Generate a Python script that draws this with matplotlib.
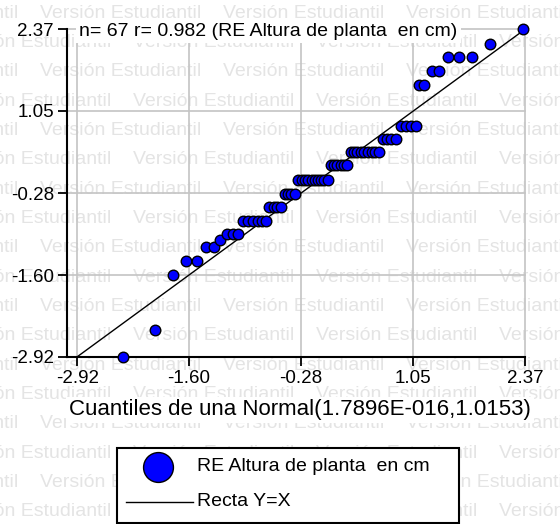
import matplotlib
matplotlib.use('Agg')
import matplotlib.pyplot as plt
from matplotlib.patches import Rectangle
from matplotlib.lines import Line2D

plt.rcParams['font.family'] = ['Liberation Sans', 'DejaVu Sans']

# normal quantiles (x) and residuals (y)
x_quant = [-2.38, -2.00, -1.79, -1.63, -1.51, -1.40, -1.31, -1.23, -1.15, -1.08,
           -1.02, -0.96, -0.90, -0.85, -0.79, -0.74, -0.69, -0.65, -0.60, -0.56,
           -0.51, -0.47, -0.43, -0.39, -0.35, -0.31, -0.27, -0.23, -0.19, -0.15,
           -0.11, -0.08, -0.04, 0.00, 0.04, 0.08, 0.11, 0.15, 0.19, 0.23,
           0.27, 0.31, 0.35, 0.39, 0.43, 0.47, 0.51, 0.56, 0.60, 0.65,
           0.69, 0.74, 0.79, 0.85, 0.90, 0.96, 1.02, 1.08, 1.12, 1.18,
           1.27, 1.35, 1.46, 1.59, 1.74, 1.96, 2.35]
y_resid = [-2.92, -2.49, -1.60, -1.37, -1.37, -1.15, -1.15, -1.04, -0.93, -0.93,
           -0.93, -0.72, -0.72, -0.72, -0.72, -0.72, -0.72, -0.50, -0.50, -0.50,
           -0.50, -0.29, -0.29, -0.29, -0.29, -0.06, -0.06, -0.06, -0.06, -0.06,
           -0.06, -0.06, -0.06, -0.06, -0.06, 0.17, 0.17, 0.17, 0.17, 0.17,
           0.17, 0.38, 0.38, 0.38, 0.38, 0.38, 0.38, 0.38, 0.38, 0.38,
           0.60, 0.60, 0.60, 0.60, 0.81, 0.81, 0.81, 0.81, 1.47, 1.47,
           1.70, 1.70, 1.92, 1.92, 1.92, 2.14, 2.37]
ref_line = [-2.92, 2.37]
ticks = [-2.92, -1.60, -0.28, 1.05, 2.37]

title = "n= 67 r= 0.982 (RE Altura de planta  en cm)"
xlabel = "Cuantiles de una Normal(1.7896E-016,1.0153)"
series_label = "RE Altura de planta  en cm"
line_label = "Recta Y=X"

W, H = 560, 524


def fx(px):
    return px / W


def fy(py):
    return 1 - py / H


fig = plt.figure(figsize=(5.6, 5.24), dpi=100)

# student-version watermark behind everything
for row in range(18):
    yy = 13 + 29.35 * row
    start = 40 if row % 2 == 0 else 133
    for j in range(-1, 4):
        fig.text(fx(start + 183 * j), fy(yy), "Versión Estudiantil", fontsize=14,
                 color='#e4e4e4', va='center', ha='left', zorder=-5)

ax = fig.add_axes([fx(67), fy(356.7), fx(525) - fx(67), (356.7 - 29.3) / H])
ax.set_facecolor('none')
ax.set_xlim(-3.042, 2.37)
ax.set_ylim(-2.92, 2.37)

ax.grid(True, color='#c4c4c4', lw=1.2)
ax.set_axisbelow(True)
for gl in ax.get_xgridlines() + ax.get_ygridlines():
    gl.set_clip_on(False)
ax.plot(ref_line, ref_line, color='black', lw=1.0, zorder=2)
ax.plot(x_quant, y_resid, 'o', ms=7.6, mfc='#0000ff', mec='black', mew=1.0,
        zorder=3, clip_on=False)

for s in ['top', 'right']:
    ax.spines[s].set_visible(False)
for s in ['left', 'bottom']:
    ax.spines[s].set_linewidth(1.5)

ax.set_xticks(ticks)
ax.set_yticks(ticks)
ax.set_xticklabels([f"{t:.2f}" for t in ticks])
ax.set_yticklabels([f"{t:.2f}" for t in ticks])
ax.tick_params(direction='out', length=6.5, width=1.3, labelsize=13.5, pad=3)

ax.set_xlabel(xlabel, fontsize=16, va='center',
              bbox=dict(facecolor='white', edgecolor='none', pad=2))
ax.xaxis.set_label_coords((300 - 67) / 458, (356.7 - 410) / 327.4)

fig.text(fx(79), fy(31), title, fontsize=14, va='center', ha='left', zorder=3,
         bbox=dict(facecolor='white', edgecolor='none', pad=2.5))

# legend box
fig.add_artist(Rectangle((fx(117.3), fy(523.3)), fx(459.3) - fx(117.3), (523.3 - 448.3) / H,
                         transform=fig.transFigure, facecolor='white', edgecolor='black',
                         lw=1.5, zorder=4))
fig.add_artist(Line2D([fx(158.3)], [fy(466.7)], marker='o', ms=21.5, mfc='#0000ff',
                      mec='black', mew=1.0, transform=fig.transFigure, zorder=5))
fig.add_artist(Line2D([fx(126), fx(192.7)], [fy(501.7), fy(501.7)], color='black', lw=1.0,
                      transform=fig.transFigure, zorder=5))
fig.text(fx(196.7), fy(466.7), series_label, fontsize=14, va='center', ha='left', zorder=6)
fig.text(fx(196.7), fy(501.7), line_label, fontsize=14, va='center', ha='left', zorder=6)

fig.savefig('out.png', dpi=100)
